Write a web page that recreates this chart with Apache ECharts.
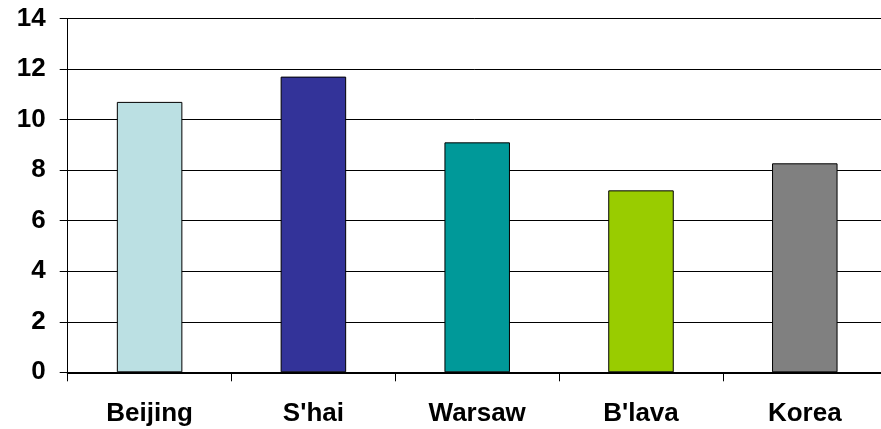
<!DOCTYPE html>
<html>
<head>
<meta charset="utf-8">
<script src="https://cdn.jsdelivr.net/npm/echarts@6/dist/echarts.min.js"></script>
<style>
  html, body { margin: 0; padding: 0; background: #fff; }
  #chart { width: 881px; height: 429px; }
</style>
</head>
<body>
<div id="chart"></div>
<script>
// City names along the category axis
const cities = ["Beijing", "S'hai", "Warsaw", "B'lava", "Korea"];
// One value per city
const values = [10.7, 11.7, 9.1, 7.2, 8.27];
// Fill colour of each city's bar
const barColors = ["#BBE0E3", "#333399", "#009999", "#99CC00", "#808080"];
// Value axis range and step
const yMin = 0, yMax = 14, yStep = 2;

const chart = echarts.init(document.getElementById('chart'), null, { renderer: 'canvas' });

const labelFont = {
  fontFamily: 'Liberation Sans, Arial, sans-serif',
  fontWeight: 'bold',
  fontSize: 26,
  color: '#000'
};

chart.setOption({
  animation: false,
  backgroundColor: '#fff',
  // the plot runs a little past the right edge of the canvas
  grid: {
    left: 67.7, width: 819, top: 18.5, height: 353.8,
    containLabel: false,
    outerBoundsMode: 'none'
  },
  xAxis: {
    type: 'category',
    data: cities,
    boundaryGap: true,
    axisLine: { show: true, lineStyle: { color: '#000', width: 2 } },
    axisTick: { show: true, length: 9, alignWithLabel: false, lineStyle: { color: '#000', width: 1 } },
    axisLabel: Object.assign({ margin: 29, interval: 0 }, labelFont),
    splitLine: { show: false }
  },
  yAxis: {
    type: 'value',
    min: yMin,
    max: yMax,
    interval: yStep,
    axisLine: { show: true, lineStyle: { color: '#000', width: 1 } },
    axisTick: { show: true, length: 8, lineStyle: { color: '#000', width: 1 } },
    axisLabel: Object.assign({ margin: 22 }, labelFont),
    splitLine: { show: true, lineStyle: { color: '#000', width: 1 } }
  },
  series: [{
    type: 'bar',
    barWidth: '40%',
    data: values.map((v, i) => ({
      value: v,
      itemStyle: { color: barColors[i], borderColor: '#000', borderWidth: 1 }
    }))
  }]
});
</script>
</body>
</html>
